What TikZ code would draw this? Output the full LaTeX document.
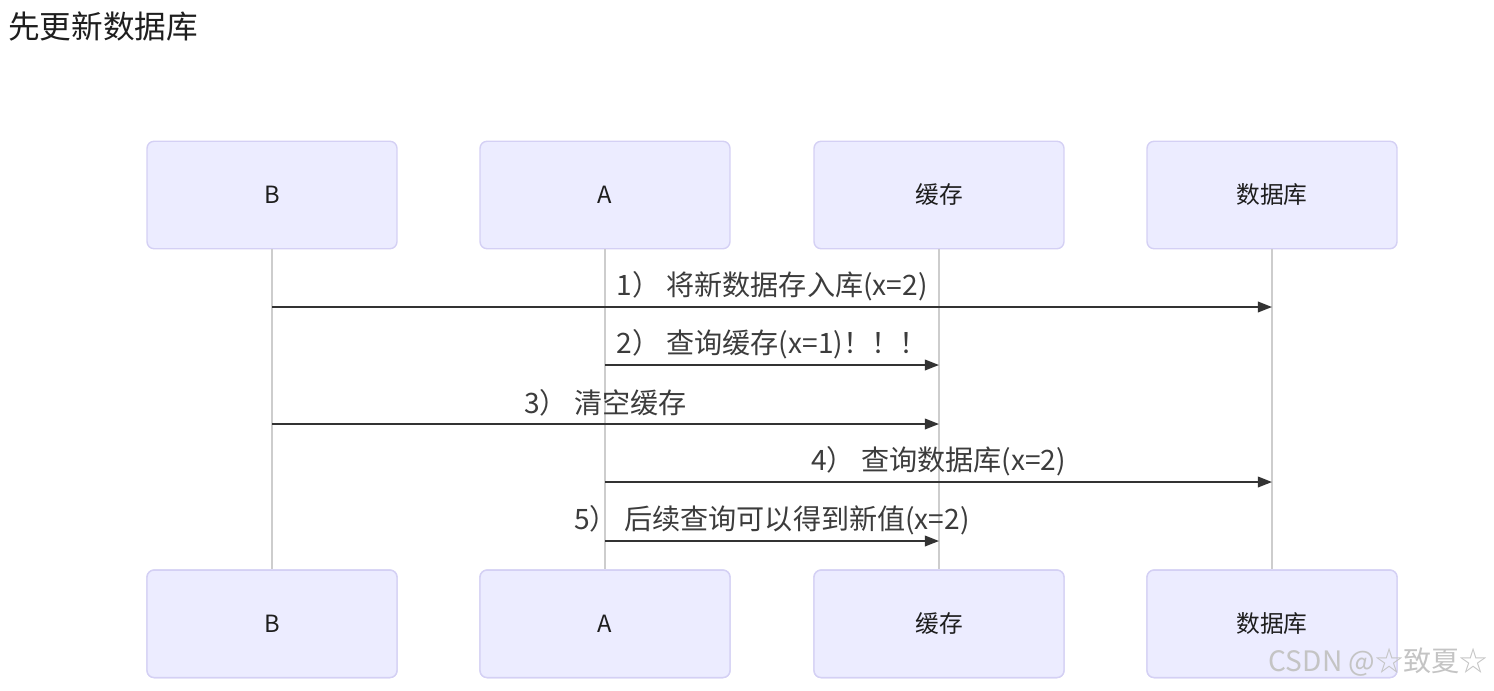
\documentclass[tikz,border=0pt]{standalone}
\usepackage{fontspec}
\setmainfont{Noto Sans CJK SC}
\usetikzlibrary{positioning,arrows.meta}
\definecolor{ink}{HTML}{1E1E1E}
\definecolor{actorfill}{HTML}{ECECFF}
\definecolor{actordraw}{HTML}{D4D0F4}
\definecolor{lifeln}{HTML}{CDCDCD}
\definecolor{msgink}{HTML}{333333}
\definecolor{msgtext}{HTML}{3C3C3C}
\definecolor{wmark}{HTML}{C4C4C4}
\tikzset{
  actor/.style={rounded corners=4pt, draw=actordraw, fill=actorfill, line width=0.8pt,
    minimum width=5cm, minimum height=2.15cm, inner sep=0pt,
    font=\fontsize{13.5}{13.5}\selectfont, text=ink},
  life/.style={draw=lifeln, line width=0.8pt},
  msg/.style={-{Triangle[length=8pt,width=6pt]}, line width=1pt, color=msgink},
  msglab/.style={midway, yshift=0.42cm, inner sep=0pt,
    font=\fontsize{16}{16}\selectfont, text=msgtext},
}
\begin{document}
\begin{tikzpicture}[x=0.02cm,y=-0.02cm]
  \useasboundingbox (0,0) rectangle (1494,690);
  \node[anchor=west, inner sep=0pt, font=\fontsize{18}{18}\selectfont, text=ink] (title) at (8,26) {先更新数据库};
  % participants, top row and mirrored bottom row
  \node[actor] (Btop) at (272,195) {B};
  \node[actor] (Atop) at (605,195) {A};
  \node[actor] (Ctop) at (939,195) {缓存};
  \node[actor] (Dtop) at (1272,195) {数据库};
  \foreach \p in {B,A,C,D} {
    \node[actor, below=6.4cm of \p top] (\p bot) {};
  }
  \node[actor, at=(Bbot.center)] {B};
  \node[actor, at=(Abot.center)] {A};
  \node[actor, at=(Cbot.center)] {缓存};
  \node[actor, at=(Dbot.center)] {数据库};
  \foreach \p in {B,A,C,D} {
    \draw[life] (\p top) -- (\p bot);
  }
  % message rows on the lifelines
  \foreach \p in {B,A,C,D} {
    \foreach \r/\y in {1/307,2/365,3/424,4/482,5/541} {
      \coordinate (\p\r) at (\p top |- 0,\y);
    }
  }
  \draw[msg] (B1) -- (D1) node[msglab] {1） 将新数据存入库(x=2)};
  \draw[msg] (A2) -- (C2) node[msglab] {2） 查询缓存(x=1)！！！};
  \draw[msg] (B3) -- (C3) node[msglab] {3） 清空缓存};
  \draw[msg] (A4) -- (D4) node[msglab] {4） 查询数据库(x=2)};
  \draw[msg] (A5) -- (C5) node[msglab] {5） 后续查询可以得到新值(x=2)};
  \node[anchor=east, inner sep=0pt, font=\fontsize{16}{16}\selectfont, text=wmark] (mark) at (1488,662) {CSDN @☆致夏☆};
\end{tikzpicture}
\end{document}
